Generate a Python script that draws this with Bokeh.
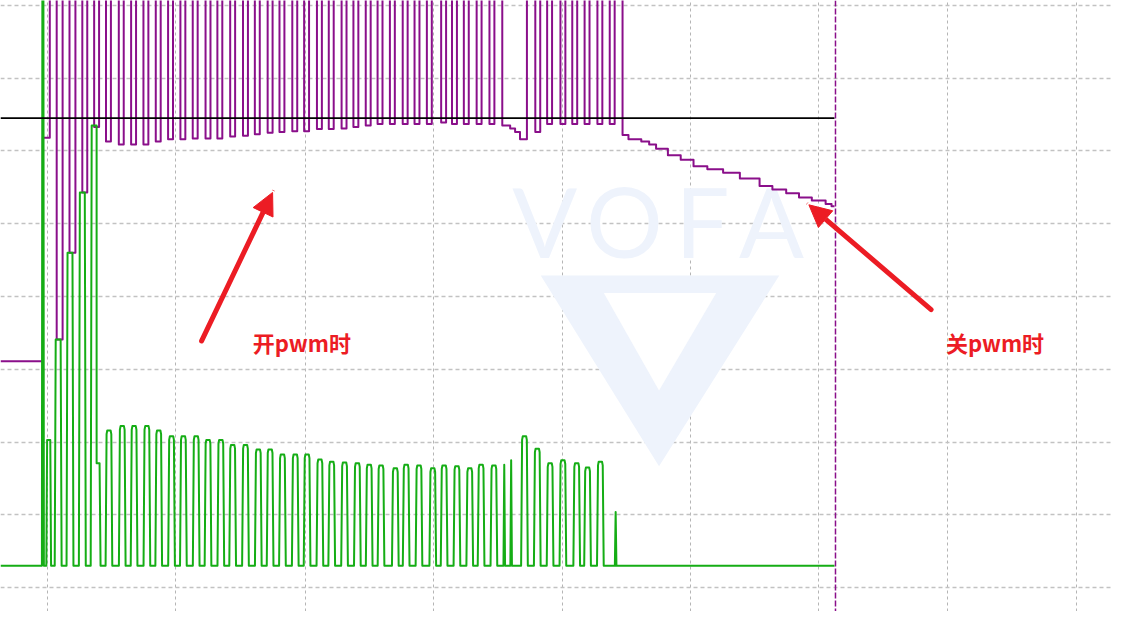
from bokeh.plotting import figure
from bokeh.models import Span, Arrow, NormalHead, Range1d
from bokeh.embed import file_html
from bokeh.resources import INLINE
from bokeh.core.properties import value

# ---------------- data (x: sample index, y: amplitude in grid divisions) ----------------
x_grid_ticks = [48, 178, 309, 439, 570, 700, 830, 961, 1091]
y_grid_ticks = [0, 1, 2, 3, 4, 5, 6, 7, 8]

clip_level = 8.6          # samples above the visible window
ref_level = 6.45          # black reference line
ref_end = 846
cursor_x = 847            # dashed cursor

# purple channel - start transient
purple_start_x = [0, 43, 43, 50, 50]
purple_start_y = [3.11, 3.11, 6.18, 6.18, clip_level]
# purple dips: centre, duration, bottom level
purple_dip_center = [60, 73, 85.5, 97.5,
                     109.5, 122.5, 135, 147.5, 160, 172.5, 185, 197.5, 210.5, 222.5,
                     235.5, 248.5, 260.5, 273.5, 285.5, 298.5, 310.5, 323.5, 335.5, 348.5,
                     360.5, 373, 385, 397.5, 410.5, 422.5, 435, 449.5, 460.5, 472.5,
                     485.5, 498.5,
                     545, 557, 570.5, 582.5, 595, 608, 620.5]
purple_dip_width = [6, 6, 5, 5] + [5] * 39
purple_dip_level = [3.41, 4.60, 5.43, 6.33,
                    6.13, 6.09, 6.09, 6.09, 6.13, 6.16, 6.16, 6.17, 6.17, 6.17,
                    6.20, 6.21, 6.23, 6.25, 6.26, 6.27, 6.27, 6.30, 6.30, 6.31,
                    6.33, 6.35, 6.37, 6.37, 6.37, 6.37, 6.37, 6.39, 6.37, 6.37,
                    6.37, 6.37,
                    6.26, 6.37, 6.37, 6.37, 6.37, 6.37, 6.37]
# purple gap (no pwm pulses) staircase
purple_gap_x = [509, 517, 522, 527, 534]
purple_gap_y = [6.35, 6.31, 6.26, 6.16]
# purple decay after pwm off
purple_tail_x = [631, 637, 650, 658, 665, 677, 690, 703, 717, 733, 750, 770, 783, 797, 810, 823, 837, 843, 846]
purple_tail_y = [6.22, 6.16, 6.13, 6.09, 6.03, 5.94, 5.88, 5.79, 5.75, 5.70, 5.62, 5.52, 5.47, 5.42, 5.36, 5.32, 5.27, 5.24, 5.24]

# green channel
green_base = 0.30
green_start_x = [0, 42, 42.5, 43.5, 44, 46.5, 47.3, 50.5, 51.3,
                 55, 56, 61, 62, 67, 68, 73, 74, 79.5, 80.5, 85.5, 86.5,
                 91.5, 92.5, 97.5, 97.5, 100.5, 101.5]
green_start_y = [0.30, 0.30, clip_level, clip_level, 0.30, 0.30, 2.03, 2.03, 0.30,
                 0.30, 3.41, 3.41, 0.30, 0.30, 4.60, 4.60, 0.30, 0.30, 5.43, 5.43, 0.30,
                 0.30, 6.35, 6.35, 1.71, 1.71, 0.30]
green_pulse_center = [110, 123.5, 135.5, 148.5, 160.5, 173.5, 185.5, 198.5, 210.5, 223.5,
                      235.5, 248.5, 261.5, 273.5, 286, 299, 311, 324, 336, 349,
                      362, 374, 386, 400.5, 411.5, 424.5, 438.5, 450, 463, 476,
                      487.5, 500.5, 531.5, 544.5, 557.5, 570.5, 584.5, 595.5, 608.5]
green_pulse_top = [2.16, 2.22, 2.22, 2.22, 2.16, 2.08, 2.08, 2.08, 2.03, 2.03,
                   1.96, 1.96, 1.90, 1.90, 1.83, 1.83, 1.83, 1.76, 1.73, 1.72,
                   1.71, 1.69, 1.68, 1.64, 1.69, 1.68, 1.64, 1.68, 1.67, 1.64,
                   1.69, 1.68, 2.08, 1.91, 1.71, 1.75, 1.71, 1.65, 1.73]
green_spike_center = [511, 518, 624]
green_spike_top = [1.69, 1.75, 1.04]
green_end = 846

# watermark + annotations
wm_letters = ["V", "O", "F", "A"]
wm_x = [552, 633, 712, 782]
wm_y = [5.05, 5.05, 5.05, 5.05]
wm_outer_x = [548, 790, 668]
wm_outer_y = [4.29, 4.29, 1.67]
wm_inner_x = [612, 726, 668]
wm_inner_y = [4.05, 4.05, 2.71]

arrow_start_x = [204, 944]
arrow_start_y = [3.39, 3.82]
arrow_end_x = [276, 820]
arrow_end_y = [5.43, 5.26]
note_text = ["开pwm时", "关pwm时"]
note_x = [256, 959]
note_y = [3.37, 3.37]

# ---------------- build waveforms ----------------
px, py = list(purple_start_x), list(purple_start_y)
for c, w, lv in zip(purple_dip_center, purple_dip_width, purple_dip_level):
    px += [c - w / 2, c - w / 2, c + w / 2, c + w / 2]
    py += [clip_level, lv, lv, clip_level]
    if c == 498.5:
        px.append(purple_gap_x[0])
        py.append(clip_level)
        for i, lv2 in enumerate(purple_gap_y):
            px += [purple_gap_x[i], purple_gap_x[i + 1]]
            py += [lv2, lv2]
        px.append(purple_gap_x[-1])
        py.append(clip_level)
px.append(purple_tail_x[0])
py.append(clip_level)
for i in range(len(purple_tail_x) - 1):
    px += [purple_tail_x[i], purple_tail_x[i + 1]]
    py += [purple_tail_y[i], purple_tail_y[i]]

gx, gy = list(green_start_x), list(green_start_y)
pulses = [(c, t, False) for c, t in zip(green_pulse_center, green_pulse_top)]
pulses += [(c, t, True) for c, t in zip(green_spike_center, green_spike_top)]
pulses.sort()
for c, t, narrow in pulses:
    if narrow:
        gx += [c - 0.8, c, c + 0.8]
        gy += [green_base, t, green_base]
    else:
        gx += [c - 3.4, c - 2.4, c - 1.7, c + 1.7, c + 2.4, c + 3.4]
        gy += [green_base, t - 0.05, t, t, t - 0.05, green_base]
gx.append(green_end)
gy.append(green_base)

# ---------------- figure ----------------
p = figure(width=1112, height=611, x_range=Range1d(0, 1128), y_range=Range1d(-0.327, 8.067),
           output_backend="svg", toolbar_location=None, min_border=0)
p.outline_line_color = None
p.background_fill_color = "white"
p.xaxis.visible = False
p.yaxis.visible = False
p.xgrid.ticker = x_grid_ticks
p.ygrid.ticker = y_grid_ticks
p.xgrid.grid_line_color = "#b5b5b5"
p.xgrid.grid_line_dash = "3 3"
p.xgrid.grid_line_width = 1
p.ygrid.grid_line_color = "#c2c2c2"
p.ygrid.grid_line_dash = "4 3"
p.ygrid.grid_line_width = 1.5

# watermark
p.patch(wm_outer_x, wm_outer_y, fill_color="#eef3fc", line_color=None)
p.patch(wm_inner_x, wm_inner_y, fill_color="white", line_color=None)
p.text(x=wm_x, y=wm_y, text=wm_letters, text_font=value("Lato"), text_font_size="96px",
       text_color="#eef3fc", text_align="center", text_baseline="middle")

p.line(px, py, line_color="#8a0f8a", line_width=2, line_join="round")
p.line(gx, gy, line_color="#15ad15", line_width=2, line_join="round")
p.line([0, ref_end], [ref_level, ref_level], line_color="black", line_width=1.8)
p.add_layout(Span(location=cursor_x, dimension="height", line_color="#8a0f8a",
                  line_dash="6 2", line_width=1.5))

for xs, ys, xe, ye in zip(arrow_start_x, arrow_start_y, arrow_end_x, arrow_end_y):
    p.add_layout(Arrow(x_start=xs, y_start=ys, x_end=xe, y_end=ye, line_color="#ec1c24",
                       line_width=5, line_cap="round",
                       end=NormalHead(size=22, fill_color="#ec1c24", line_color="#ec1c24")))
p.text(x=note_x, y=note_y, text=note_text, text_font=value("Noto Sans CJK SC"),
       text_font_style="bold", text_font_size="22px", text_color="#ec1c24",
       text_align="left", text_baseline="middle")

open("out.html", "w").write(file_html(p, INLINE))
